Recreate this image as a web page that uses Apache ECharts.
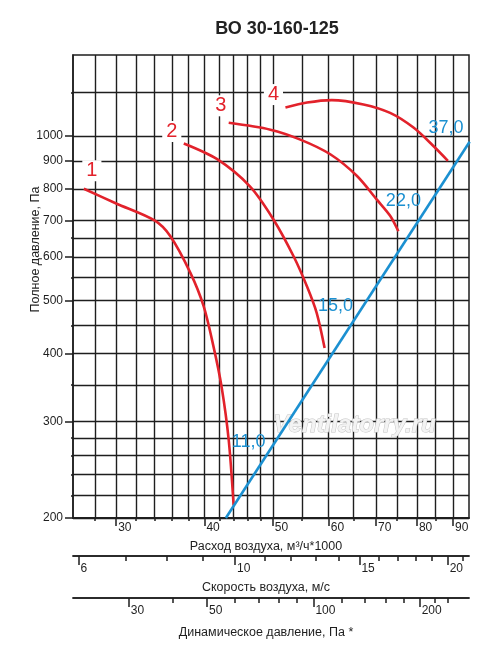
<!DOCTYPE html>
<html>
<head>
<meta charset="utf-8">
<script src="https://cdn.jsdelivr.net/npm/echarts@6/dist/echarts.min.js"></script>
<style>
  html, body { margin: 0; padding: 0; background: #fff; }
  #chart { width: 500px; height: 654px; }
</style>
</head>
<body>
<div id="chart"></div>
<script>
// flow, 1000 m3/h  /  total pressure, Pa
const flow1 = [27.0, 30.0, 34.0, 35.8, 38.2, 39.9, 41.2, 42.3, 43.3, 44.0];
const pres1 = [800, 752, 700, 655, 562, 488, 412, 348, 278, 211];
const flow2 = [37.4, 41.7, 46.4, 50.1, 53.5, 55.9, 57.7, 59.2];
const pres2 = [968, 906, 808, 703, 602, 530, 474, 409];
const flow3 = [43.3, 49.6, 54.7, 60.3, 65.8, 70.2, 73.3, 75.3];
const pres3 = [1056, 1026, 984, 925, 844, 764, 714, 669];
const flow4 = [52.1, 55.9, 60.6, 67.2, 73.3, 79.1, 84.4, 88.5];
const pres4 = [1126, 1150, 1162, 1141, 1101, 1035, 958, 900];
// motor power line
const flowMotor = [42.9, 95.0];
const presMotor = [200, 975];

const curveNames = ['1', '2', '3', '4'];
const motorPower = ['11,0', '15,0', '22,0', '37,0'];

// axes
const flowRange = [26.06, 94.8];
const presRange = [200, 1405];
const flowGrid = [28, 30, 32, 34, 36, 38, 40, 42, 44, 46, 48, 50, 55, 60, 65, 70, 75, 80, 85, 90];
const flowTicks = [30, 40, 50, 60, 70, 80, 90];
const presGrid = [200, 220, 240, 260, 280, 300, 350, 400, 450, 500, 550, 600, 650, 700, 800, 900, 1000, 1200];
const presTicks = [200, 300, 400, 500, 600, 700, 800, 900, 1000];
const speedGrid = [6, 7, 8, 9, 10, 11, 12, 13, 14, 15, 16, 17, 18, 19, 20, 21];
const speedTicks = [6, 10, 15, 20];
const dynGrid = [30, 40, 50, 60, 70, 80, 90, 100, 120, 140, 160, 180, 200, 220, 240];
const dynTicks = [30, 50, 100, 200];

const speedPerFlow = 0.2262; // m/s per 1000 m3/h
const halfRho = 0.6;
const speedRange = flowRange.map(q => q * speedPerFlow);
const dynRange = speedRange.map(v => halfRho * v * v);

const ink = '#1e1e1e';
const red = '#e2222b';
const blue = '#1b90d1';
const sans = "'Liberation Sans Narrow', 'Arial Narrow', 'Liberation Sans', Arial, sans-serif";

const nameOffset = [[8, -18], [-12, -12], [-8, -17], [-12, -13]];
const powerOffset = [[15, -63], [11, -42], [5, -30], [-2, -33]];

const curves = [[flow1, pres1], [flow2, pres2], [flow3, pres3], [flow4, pres4]];

const lineSt = { color: ink, width: 1.5 };

function tickAxis(range, ticks, len, offset, extra) {
  return Object.assign({
    type: 'log', logBase: 10, position: 'bottom', min: range[0], max: range[1], offset: offset,
    axisLine: { show: true, onZero: false, lineStyle: lineSt },
    axisTick: { show: true, customValues: ticks, length: len, lineStyle: lineSt },
    axisLabel: { show: false },
    splitLine: { show: false }
  }, extra || {});
}

function labelAxis(range, ticks, len, offset, margin, name, gap) {
  return tickAxis(range, ticks, len, offset, {
    axisLabel: {
      show: true, customValues: ticks, align: 'left', margin: margin, padding: [0, 0, 0, 2],
      color: ink, fontSize: 12, fontFamily: sans, formatter: v => String(Math.round(v))
    },
    name: name, nameLocation: 'middle', nameGap: gap, nameMoveOverlap: false,
    nameTextStyle: { color: ink, fontSize: 12.5, fontFamily: sans, padding: [0, 10, 0, 0] }
  });
}

const series = curves.map((c, i) => {
  const pts = c[0].map((q, j) => [q, c[1][j]]);
  return {
    type: 'line', xAxisIndex: 0, yAxisIndex: 0,
    data: pts, smooth: 0.3, showSymbol: false, z: 3,
    lineStyle: { color: red, width: 2.6 },
    markPoint: {
      symbol: 'rect', symbolSize: 0, silent: true, animation: false,
      data: [
        {
          coord: pts[0],
          label: {
            show: true, position: 'inside', offset: nameOffset[i], formatter: curveNames[i],
            color: red, fontSize: 20, fontFamily: sans,
            backgroundColor: '#fff', padding: [1, 4, 0, 4]
          }
        },
        {
          coord: pts[pts.length - 1],
          label: {
            show: true, position: 'inside', offset: powerOffset[i], formatter: motorPower[i],
            color: blue, fontSize: 18, fontFamily: sans
          }
        }
      ]
    }
  };
});

series.push({
  type: 'line', xAxisIndex: 0, yAxisIndex: 0, z: 4,
  data: flowMotor.map((q, j) => [q, presMotor[j]]),
  showSymbol: false, clip: true,
  lineStyle: { color: blue, width: 2.6 }
});

const chart = echarts.init(document.getElementById('chart'), null, { renderer: 'canvas' });
chart.setOption({
  animation: false,
  backgroundColor: '#fff',
  title: {
    text: 'ВО 30-160-125', left: 272, top: 15, textAlign: 'center',
    textStyle: { color: '#222', fontSize: 18, fontWeight: 'bold', fontFamily: sans }
  },
  grid: { left: 73, right: 31, top: 55, bottom: 136, show: true, borderColor: ink, borderWidth: 1.5, backgroundColor: 'transparent' },
  xAxis: [
    tickAxis(flowRange, flowGrid, 3, 0, { splitLine: { show: true, lineStyle: { color: ink, width: 1.4 } } }),
    labelAxis(flowRange, flowTicks, 8, 0, 4, 'Расход воздуха, м³/ч*1000', 22),
    tickAxis(speedRange, speedGrid, 5, 38),
    labelAxis(speedRange, speedTicks, 9, 38, 7, 'Скорость воздуха, м/с', 25),
    tickAxis(dynRange, dynGrid, 5, 80),
    labelAxis(dynRange, dynTicks, 9, 80, 7, 'Динамическое давление, Па *', 28)
  ],
  yAxis: [
    {
      type: 'log', logBase: 10, position: 'left', min: presRange[0], max: presRange[1],
      axisLine: { show: true, onZero: false, lineStyle: lineSt },
      axisTick: { show: true, customValues: presGrid, length: 2, lineStyle: lineSt },
      axisLabel: { show: false },
      splitLine: { show: true, lineStyle: { color: ink, width: 1.4 } }
    },
    {
      type: 'log', logBase: 10, position: 'left', min: presRange[0], max: presRange[1],
      axisLine: { show: false },
      axisTick: { show: true, customValues: presTicks, length: 8, lineStyle: lineSt },
      axisLabel: {
        show: true, customValues: presTicks, margin: 10, color: ink, fontSize: 12, fontFamily: sans,
        formatter: v => String(Math.round(v))
      },
      splitLine: { show: false },
      name: 'Полное давление, Па', nameLocation: 'middle', nameGap: 31, nameMoveOverlap: false,
      nameTextStyle: { color: ink, fontSize: 12.5, fontFamily: sans, padding: [0, 0, 0, 74] }
    }
  ],
  graphic: [{
    type: 'text', left: 273, top: 413, z: 1, silent: true,
    style: {
      text: 'Ventilatorry.ru', fill: '#f3f3f3', stroke: '#c4c4c4', lineWidth: 1,
      font: "italic bold 24px 'Liberation Sans', Arial, sans-serif"
    }
  }],
  series: series
});
</script>
</body>
</html>
